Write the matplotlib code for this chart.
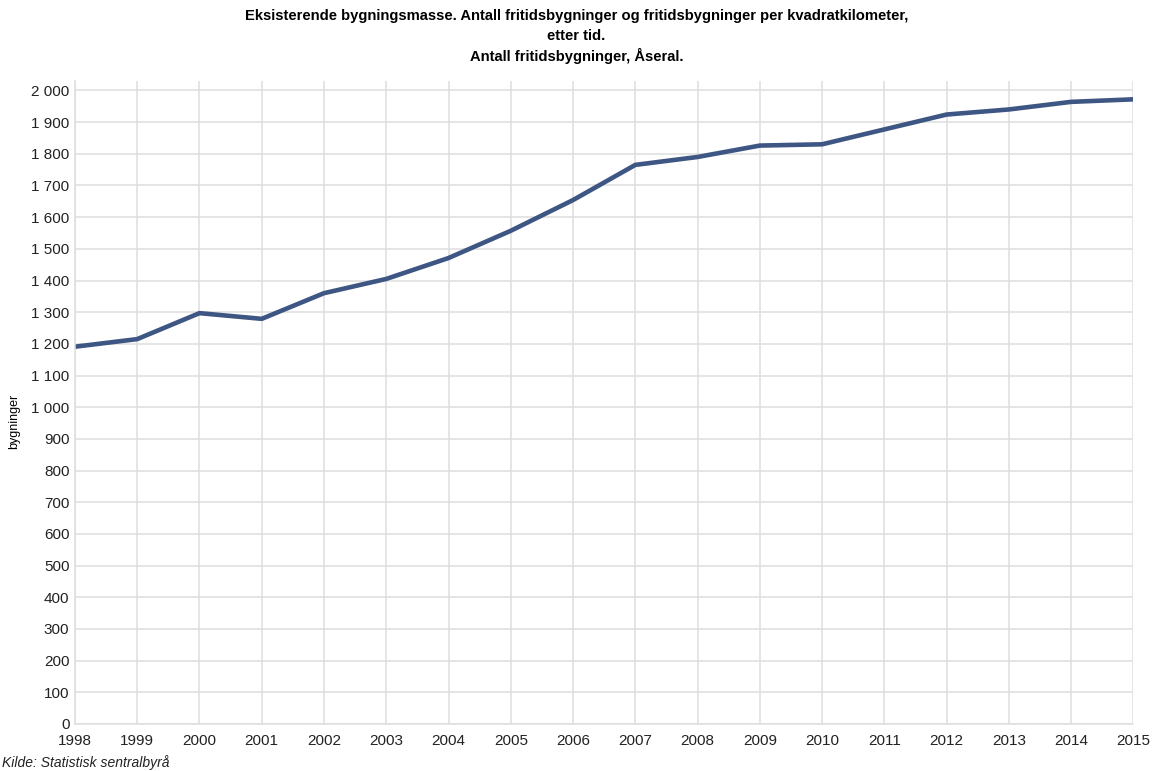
import matplotlib.pyplot as plt
from matplotlib.ticker import FuncFormatter

years = list(range(1998, 2016))
buildings = [1191, 1215, 1297, 1279, 1360, 1405, 1471, 1557, 1654, 1765,
             1790, 1826, 1830, 1877, 1924, 1940, 1964, 1972]

title_lines = ["Eksisterende bygningsmasse. Antall fritidsbygninger og fritidsbygninger per kvadratkilometer,",
               "etter tid.",
               "Antall fritidsbygninger, Åseral."]
source = "Kilde: Statistisk sentralbyrå"

plt.rcParams['font.family'] = ['Liberation Sans', 'DejaVu Sans']

fig = plt.figure(figsize=(11.53, 7.71), dpi=100)
ax = fig.add_axes([0.065, 0.061, 0.918, 0.834])

ax.plot(years, buildings, color='#3e5683', lw=3.3, solid_capstyle='butt')

ax.set_xlim(1998, 2015)
ax.set_ylim(0, 2030)
ax.set_xticks(years)
ax.set_yticks(range(0, 2001, 100))
ax.yaxis.set_major_formatter(FuncFormatter(lambda v, p: f"{int(v):,}".replace(",", " ")))
ax.grid(True, color='#dedede', lw=1.1)
ax.set_axisbelow(True)
ax.tick_params(length=0, labelsize=11, colors='#222222', pad=4)
ax.tick_params(axis='x', pad=7)

for s in ['top', 'right']:
    ax.spines[s].set_visible(False)
for s in ['left', 'bottom']:
    ax.spines[s].set_color('#dedede')
    ax.spines[s].set_linewidth(1.1)

ax.set_ylabel("bygninger", fontsize=9, labelpad=6)
ax.yaxis.set_label_coords(-0.052, 0.47)

narrow = ['Liberation Sans Narrow', 'Liberation Sans', 'DejaVu Sans']
for i, line in enumerate(title_lines):
    fig.text(0.5, 1 - (16 + i * 20) / 771, line, ha='center', va='center',
             fontsize=10.6, fontweight='bold', family=narrow)

fig.text(0.002, 1 - 763 / 771, source, ha='left', va='center',
         fontsize=10, style='italic', color='#222222')

fig.savefig("out.png", dpi=100)
